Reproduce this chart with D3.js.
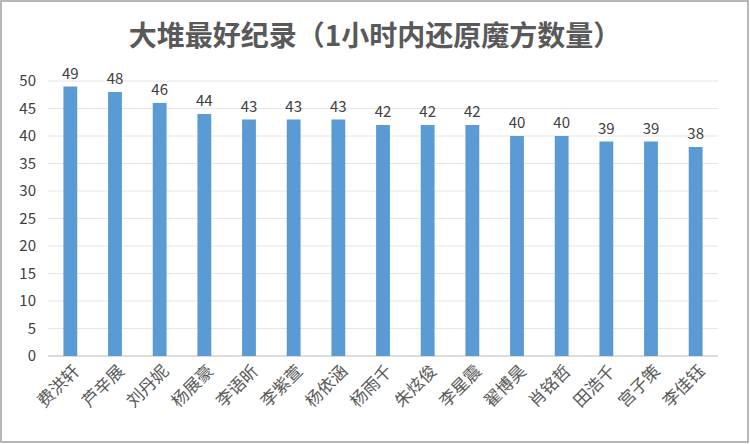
<!DOCTYPE html><html><head><meta charset="utf-8"><script src="https://cdn.jsdelivr.net/npm/d3@7"></script>
<style>body{margin:0;background:#fff}</style></head><body><svg id="c" width="750" height="444"></svg>
<script>
const names=["费洪轩","芦辛展","刘丹妮","杨展豪","李语昕","李紫萱","杨依涵","杨雨千","朱炫俊","李星震","翟博昊","肖铭哲","田浩千","宫子策","李佳钰"];
const values=[49,48,46,44,43,43,43,42,42,42,40,40,39,39,38];
const ticks=[0,5,10,15,20,25,30,35,40,45,50];
const title="大堆最好纪录（1小时内还原魔方数量）";
const svg=d3.select("#c");
svg.append("rect").attr("x",1).attr("y",1).attr("width",747).attr("height",441).attr("fill","#fff").attr("stroke","#a0a0a0").attr("stroke-width",1.5);
const x=d3.scaleBand().domain(names).range([48,718]).paddingInner(0.69).paddingOuter(0.345);
const y=d3.scaleLinear().domain([0,50]).range([356,81]);
const f="'Noto Sans CJK SC',sans-serif";
svg.append("g").selectAll("line").data(ticks).join("line").attr("x1",48).attr("x2",718).attr("y1",d=>y(d)).attr("y2",d=>y(d)).attr("stroke",d=>d===0?"#d0d0d0":"#e6e6e6").attr("stroke-width",d=>d===0?1.5:1);
svg.append("g").selectAll("text").data(ticks).join("text").attr("x",36).attr("y",d=>y(d)).attr("dy","0.35em").attr("text-anchor","end").attr("font-family",f).attr("font-size",15).attr("fill","#404040").text(d=>d);
svg.append("g").selectAll("rect").data(values).join("rect").attr("x",(d,i)=>x(names[i])).attr("width",x.bandwidth()).attr("y",d=>y(d)).attr("height",d=>y(0)-y(d)).attr("fill","#5b9bd5");
svg.append("g").selectAll("text").data(values).join("text").attr("x",(d,i)=>x(names[i])+x.bandwidth()/2).attr("y",d=>y(d)-8).attr("text-anchor","middle").attr("font-family",f).attr("font-size",15).attr("fill","#404040").text(d=>d);
svg.append("g").selectAll("text").data(names).join("text").attr("transform",d=>`translate(${x(d)+x.bandwidth()/2+6},${368}) rotate(-45)`).attr("text-anchor","end").attr("dy","0.35em").attr("font-family",f).attr("font-size",17).attr("fill","#595959").text(d=>d);
svg.append("text").attr("x",375).attr("y",46).attr("text-anchor","middle").attr("font-family",f).attr("font-size",28).attr("font-weight","bold").attr("fill","#595959").text(title);
</script></body></html>
